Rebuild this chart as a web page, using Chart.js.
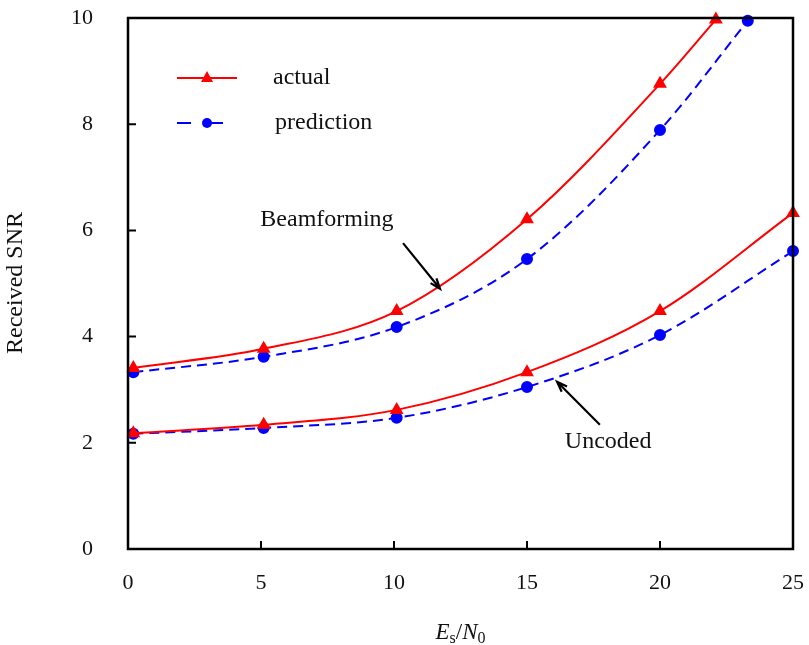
<!DOCTYPE html>
<html>
<head>
<meta charset="utf-8">
<script src="https://cdn.jsdelivr.net/npm/chart.js@4.4.1/dist/chart.umd.min.js"></script>
<style>
  html, body { margin: 0; padding: 0; background: #fff; }
  #wrap { width: 809px; height: 645px; }
</style>
</head>
<body>
<div id="wrap"><canvas id="snrChart" width="809" height="645"></canvas></div>
<script>
// values
const xBeamActual = [0.2, 5.1, 10.1, 15, 20, 22.1];
const beamActual = [3.41, 3.77, 4.48, 6.21, 8.76, 9.97];
const xBeamPred = [0.2, 5.1, 10.1, 15, 20, 23.3];
const beamPred = [3.33, 3.62, 4.18, 5.46, 7.89, 9.95];
const xUncoded = [0.2, 5.1, 10.1, 15, 20, 25];
const uncodedActual = [2.18, 2.34, 2.62, 3.33, 4.48, 6.33];
const uncodedPred = [2.17, 2.28, 2.47, 3.05, 4.03, 5.61];

const xTicks = [0, 5, 10, 15, 20, 25];
const yTicks = [0, 2, 4, 6, 8, 10];

const legendLabels = ["actual", "prediction"];

// annotation text + arrows, in data units
const notes = [
  { text: "Beamforming", x: 7.48, y: 6.2, from: [10.34, 5.76], to: [11.73, 4.9] },
  { text: "Uncoded", x: 18.05, y: 2.02, from: [17.74, 2.34], to: [16.13, 3.15] }
];

const RED = "#ff0000";
const BLUE = "#0000ff";
const FONT = "'Liberation Serif', 'Times New Roman', serif";

function pts(xs, ys) {
  return xs.map((x, i) => ({ x: x, y: ys[i] }));
}

function actualSet(data) {
  return {
    data: data,
    borderColor: RED,
    backgroundColor: RED,
    borderWidth: 2,
    pointStyle: "triangle",
    pointRadius: 6,
    pointHoverRadius: 6,
    cubicInterpolationMode: "monotone",
    clip: false
  };
}

function predSet(data) {
  return {
    data: data,
    borderColor: BLUE,
    backgroundColor: BLUE,
    borderWidth: 2,
    borderDash: [10, 6],
    pointStyle: "circle",
    pointRadius: 5,
    pointHoverRadius: 5,
    cubicInterpolationMode: "monotone",
    clip: false
  };
}

// keep tick label overflow from pushing the plot area around
function fixAxis(size, key) {
  return s => {
    s[key] = size;
    s.paddingTop = 0; s.paddingBottom = 0;
    s.paddingLeft = 0; s.paddingRight = 0;
  };
}

function drawArrow(ctx, x1, y1, x2, y2) {
  const ang = Math.atan2(y2 - y1, x2 - x1);
  const head = 11;
  ctx.beginPath();
  ctx.moveTo(x1, y1);
  ctx.lineTo(x2, y2);
  ctx.moveTo(x2 - head * Math.cos(ang - 0.35), y2 - head * Math.sin(ang - 0.35));
  ctx.lineTo(x2, y2);
  ctx.lineTo(x2 - head * Math.cos(ang + 0.35), y2 - head * Math.sin(ang + 0.35));
  ctx.stroke();
}

const framePlugin = {
  id: "frame",
  afterDraw(chart) {
    const ctx = chart.ctx;
    const a = chart.chartArea;
    const xs = chart.scales.x;
    const ys = chart.scales.y;
    ctx.save();

    // box
    ctx.strokeStyle = "#000";
    ctx.lineWidth = 2.5;
    ctx.strokeRect(a.left, a.top, a.right - a.left, a.bottom - a.top);

    // inward ticks
    ctx.lineWidth = 2;
    ctx.beginPath();
    xTicks.forEach(v => {
      const px = xs.getPixelForValue(v);
      ctx.moveTo(px, a.bottom);
      ctx.lineTo(px, a.bottom - 8);
    });
    yTicks.forEach(v => {
      const py = ys.getPixelForValue(v);
      ctx.moveTo(a.left, py);
      ctx.lineTo(a.left + 8, py);
    });
    ctx.stroke();

    // annotations
    ctx.fillStyle = "#111";
    ctx.font = "24px " + FONT;
    ctx.textAlign = "center";
    ctx.textBaseline = "middle";
    notes.forEach(n => {
      ctx.fillText(n.text, xs.getPixelForValue(n.x), ys.getPixelForValue(n.y));
      ctx.lineWidth = 2.2;
      drawArrow(ctx,
        xs.getPixelForValue(n.from[0]), ys.getPixelForValue(n.from[1]),
        xs.getPixelForValue(n.to[0]), ys.getPixelForValue(n.to[1]));
    });

    // legend
    const lx = a.left + 49, lw = 60;
    const rows = [
      { y: a.top + 60, color: RED, dash: [], marker: "triangle" },
      { y: a.top + 105, color: BLUE, dash: [14, 18], marker: "circle" }
    ];
    rows.forEach((r, i) => {
      ctx.strokeStyle = r.color;
      ctx.fillStyle = r.color;
      ctx.lineWidth = 2;
      ctx.setLineDash(r.dash);
      ctx.beginPath();
      ctx.moveTo(lx, r.y);
      ctx.lineTo(lx + lw, r.y);
      ctx.stroke();
      ctx.setLineDash([]);
      const cx = lx + lw / 2;
      ctx.beginPath();
      if (r.marker === "triangle") {
        ctx.moveTo(cx, r.y - 7);
        ctx.lineTo(cx + 6, r.y + 4);
        ctx.lineTo(cx - 6, r.y + 4);
        ctx.closePath();
      } else {
        ctx.arc(cx, r.y, 5, 0, Math.PI * 2);
      }
      ctx.fill();
      ctx.fillStyle = "#111";
      ctx.textAlign = "left";
      ctx.fillText(legendLabels[i], lx + 96 + i * 2, r.y);
    });

    // axis titles
    ctx.fillStyle = "#111";
    ctx.save();
    ctx.translate(16, 283);
    ctx.rotate(-Math.PI / 2);
    ctx.textAlign = "center";
    ctx.font = "24px " + FONT;
    ctx.fillText("Received SNR", 0, 0);
    ctx.restore();

    // E_s / N_0
    const parts = [
      { t: "E", f: "italic 23px " + FONT, dy: 0 },
      { t: "s", f: "16px " + FONT, dy: 4 },
      { t: "/", f: "23px " + FONT, dy: 0 },
      { t: "N", f: "italic 23px " + FONT, dy: 0 },
      { t: "0", f: "16px " + FONT, dy: 4 }
    ];
    let total = 0;
    parts.forEach(p => { ctx.font = p.f; p.w = ctx.measureText(p.t).width; total += p.w; });
    let px = (a.left + a.right) / 2 - total / 2;
    const py = 632;
    ctx.textAlign = "left";
    ctx.textBaseline = "alphabetic";
    parts.forEach(p => {
      ctx.font = p.f;
      ctx.fillText(p.t, px, py + 7 + p.dy);
      px += p.w;
    });

    ctx.restore();
  }
};

new Chart(document.getElementById("snrChart"), {
  type: "line",
  data: {
    datasets: [
      actualSet(pts(xBeamActual, beamActual)),
      predSet(pts(xBeamPred, beamPred)),
      actualSet(pts(xUncoded, uncodedActual)),
      predSet(pts(xUncoded, uncodedPred))
    ]
  },
  options: {
    responsive: false,
    animation: false,
    devicePixelRatio: 1,
    layout: { autoPadding: false, padding: { top: 18, right: 16, left: 0, bottom: 0 } },
    plugins: {
      legend: { display: false },
      tooltip: { enabled: false }
    },
    scales: {
      x: {
        type: "linear",
        min: 0,
        max: 25,
        afterBuildTicks: s => { s.ticks = xTicks.map(v => ({ value: v })); },
        afterFit: fixAxis(96, "height"),
        grid: { display: false, drawTicks: false },
        border: { display: false },
        ticks: { color: "#111", padding: 21, font: { family: FONT, size: 22 } }
      },
      y: {
        type: "linear",
        min: 0,
        max: 10,
        afterBuildTicks: s => { s.ticks = yTicks.map(v => ({ value: v })); },
        afterFit: fixAxis(128, "width"),
        grid: { display: false, drawTicks: false },
        border: { display: false },
        ticks: { color: "#111", padding: 35, font: { family: FONT, size: 22 } }
      }
    }
  },
  plugins: [framePlugin]
});
</script>
</body>
</html>
